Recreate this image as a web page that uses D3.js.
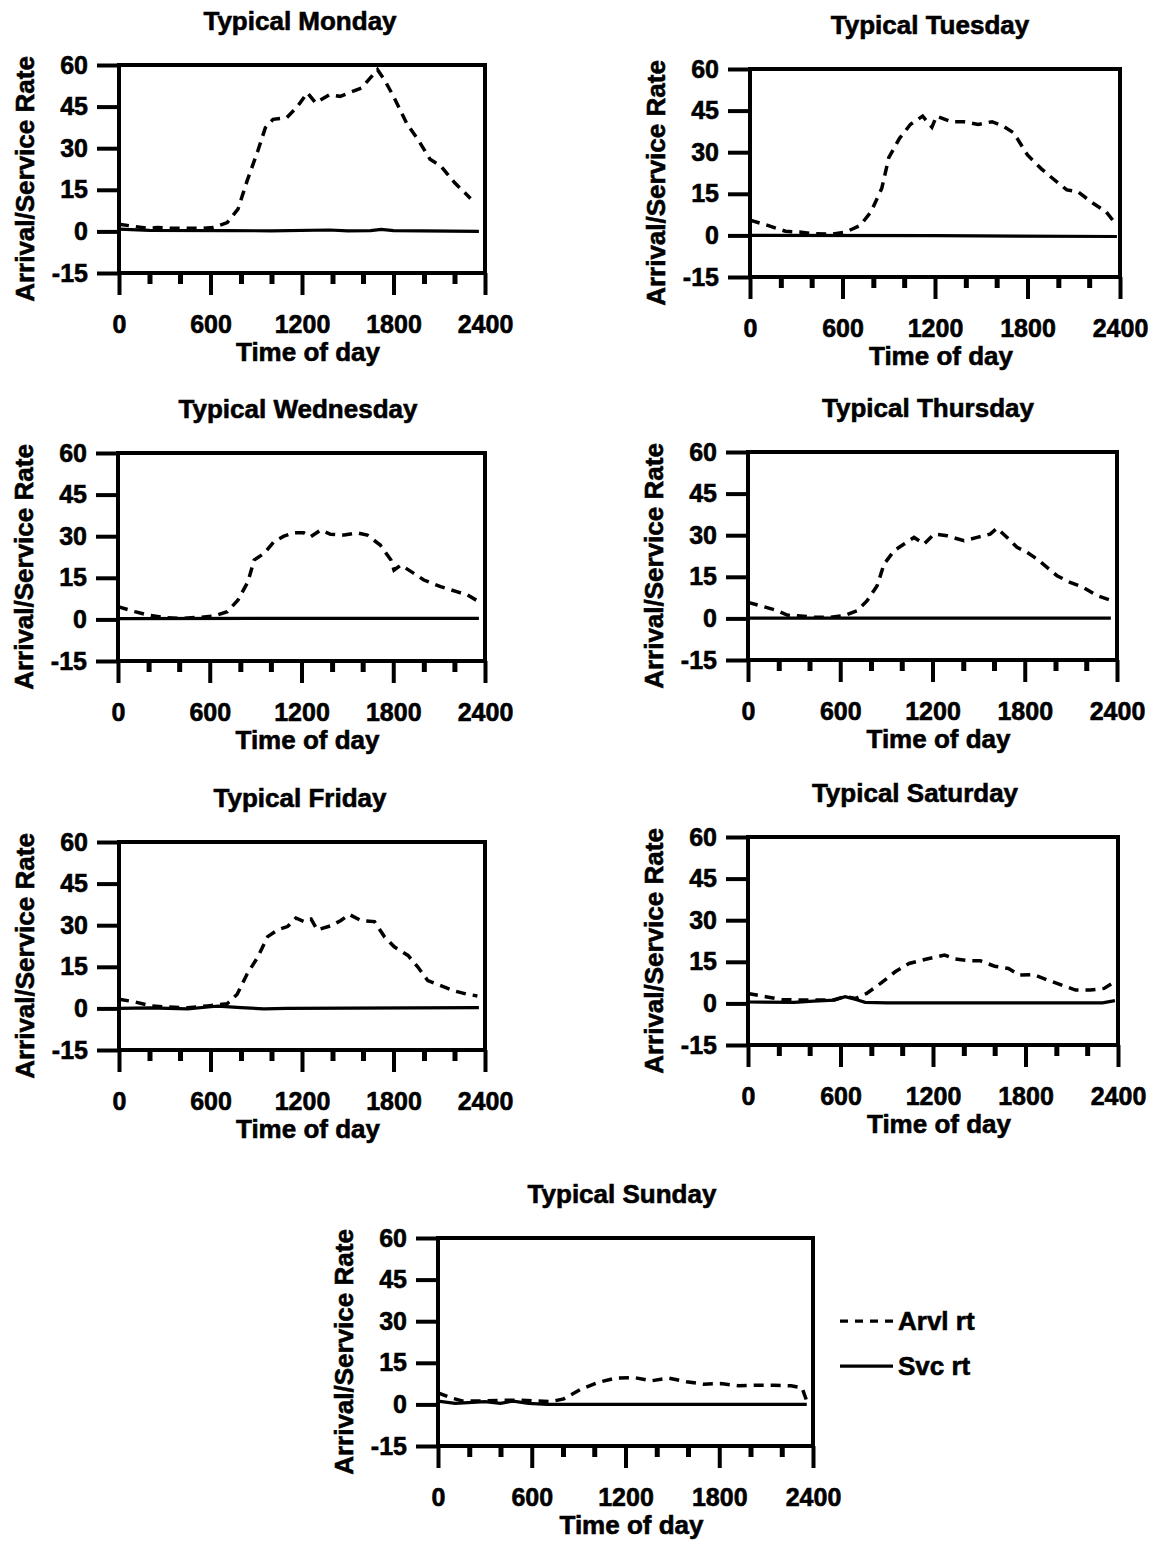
<!DOCTYPE html>
<html>
<head>
<meta charset="utf-8">
<script src="https://cdn.jsdelivr.net/npm/d3@7"></script>
<style>
  body { margin: 0; background: #fff; }
  svg text { font-family: "Liberation Sans", Arial, Helvetica, sans-serif; font-weight: bold; fill: #000; stroke: #000; stroke-width: 0.6px; }
</style>
</head>
<body>
<div id="chart"></div>
<script>
// tick values
const yTicks = [-15, 0, 15, 30, 45, 60];
const xMajor = [0, 600, 1200, 1800, 2400];
const xMinor = [200, 400, 800, 1000, 1400, 1600, 2000, 2200];

// [time of day, rate]
const monArvl = [[0,2.6],[100,1.8],[190,1.1],[250,1.4],[360,1.1],[540,1.1],[620,1.4],[710,3.2],[780,8],[840,18.2],[910,29],[960,37.4],[1010,40.4],[1100,41],[1170,45],[1235,50],[1290,46.3],[1380,49.3],[1450,48.7],[1520,50.2],[1590,51.7],[1695,58.3],[1740,54.7],[1800,48.7],[1890,38.6],[1960,33.2],[2040,26],[2110,23.6],[2200,17.6],[2305,11.9]];
const monSvc = [[0,0.8],[200,0.4],[700,0.3],[1000,0.2],[1380,0.5],[1500,0.2],[1650,0.3],[1720,0.7],[1800,0.3],[2360,0]];

const tueArvl = [[0,5.5],[115,3.6],[230,1.5],[320,1.2],[415,0.6],[530,0.4],[620,1.2],[715,3.6],[785,8.5],[855,17],[900,28],[970,35],[1040,40],[1120,43],[1180,39],[1210,43],[1305,41],[1385,41],[1480,40],[1570,41],[1640,39.5],[1710,37],[1800,29],[1890,24],[1960,20.7],[2055,16.4],[2125,15.8],[2215,12],[2310,8.5],[2370,4.3]];
const tueSvc = [[0,0],[1200,-0.1],[2380,-0.4]];

const wedArvl = [[0,4.6],[110,2.8],[195,1.6],[305,0.6],[415,0.4],[520,0.7],[630,1.2],[715,2.8],[785,7],[850,13.6],[890,21.4],[955,23.8],[1020,28],[1085,30],[1150,31.2],[1215,31.2],[1260,29.8],[1325,32.2],[1390,30.7],[1480,30.4],[1565,31.2],[1630,30.4],[1715,26.8],[1785,21.4],[1805,17.8],[1850,19.6],[1935,16.6],[2000,14.2],[2110,11.8],[2215,10],[2285,8.8],[2360,6.4]];
const wedSvc = [[0,0.3],[2360,0.4]];

const thuArvl = [[0,5.8],[105,4.2],[190,2.8],[255,1.2],[320,1],[430,0.4],[535,0.4],[625,1],[710,2.8],[775,6.4],[840,11.8],[885,19.6],[950,24.4],[1015,26.8],[1080,29.2],[1145,26.8],[1210,30.4],[1295,29.8],[1405,28],[1490,29.2],[1575,30.4],[1620,32.5],[1685,29.2],[1750,25.6],[1815,23.8],[1880,21.4],[1945,18.4],[2010,15.4],[2095,13],[2180,11.2],[2270,8.2],[2355,6.6]];
const thuSvc = [[0,0.1],[2360,0.1]];

const friArvl = [[0,3.3],[100,2.4],[210,0.9],[315,0.5],[450,0.2],[580,0.9],[710,1.7],[775,5.1],[840,12.4],[910,18.5],[975,25.9],[1040,28.3],[1105,29.5],[1160,32.6],[1215,31.3],[1260,32.2],[1300,28.3],[1390,29.8],[1455,31.7],[1510,33.9],[1585,31.7],[1675,31.3],[1740,25.9],[1805,22.2],[1895,19.1],[1960,14.9],[2025,10],[2110,8.2],[2200,6.3],[2285,5.1],[2350,4.5]];
const friSvc = [[0,0],[200,0.2],[450,-0.2],[600,0.6],[650,0.8],[800,0.3],[950,-0.2],[1100,0],[2360,0.3]];

const satArvl = [[0,3.6],[115,2.4],[220,1.4],[335,1.2],[470,1.2],[560,1.3],[630,2.5],[700,1.8],[770,3.6],[860,7.2],[955,11.4],[1045,14.4],[1160,16],[1275,17.4],[1345,16],[1435,15.4],[1505,15.4],[1600,13.4],[1690,12.6],[1760,10.2],[1850,10.4],[1945,8.4],[2035,6.6],[2125,4.8],[2220,4.8],[2310,5.4],[2380,7.8]];
const satSvc = [[0,0.5],[300,0.4],[425,0.8],[560,1.2],[630,2.4],[700,1.4],[760,0.4],[900,0.2],[2300,0.2],[2380,1]];

const sunArvl = [[0,4.2],[80,2.4],[160,1.2],[275,1.2],[415,1.5],[525,1.5],[640,1.2],[720,1],[805,2],[915,5.5],[1030,8],[1140,9.5],[1255,9.7],[1365,8.5],[1475,9.5],[1590,8.2],[1700,7.3],[1810,7.5],[1925,6.7],[2035,6.9],[2150,6.9],[2260,6.7],[2330,6],[2360,1.2]];
const sunSvc = [[0,1.2],[110,0.4],[300,1],[400,0.4],[480,1.2],[580,0.4],[700,0],[2360,0]];

const dayNames = ["Monday", "Tuesday", "Wednesday", "Thursday", "Friday", "Saturday", "Sunday"];
const arvlSeries = [monArvl, tueArvl, wedArvl, thuArvl, friArvl, satArvl, sunArvl];
const svcSeries = [monSvc, tueSvc, wedSvc, thuSvc, friSvc, satSvc, sunSvc];
const legendLabels = ["Arvl rt", "Svc rt"];

// panel placement on the page
const panels = [
  {left: 119, top: 65, w: 366, tx: 300},
  {left: 750, top: 69, w: 370, tx: 930},
  {left: 118, top: 453, w: 367, tx: 298},
  {left: 748, top: 452, w: 369, tx: 928},
  {left: 119, top: 842, w: 366, tx: 300},
  {left: 748, top: 837, w: 370, tx: 915},
  {left: 438, top: 1238, w: 375, tx: 622}
];
const ph = 208;

const svg = d3.select("#chart").append("svg")
  .attr("width", 1158)
  .attr("height", 1542);

svg.append("rect").attr("width", 1158).attr("height", 1542).attr("fill", "#fff");

const dash = "10,7";

dayNames.forEach((name, i) => {
  const p = panels[i];
  const x = d3.scaleLinear().domain([0, 2400]).range([p.left, p.left + p.w]);
  const y = d3.scaleLinear().domain([-15, 60]).range([p.top + ph, p.top]);
  const g = svg.append("g");

  // title
  g.append("text")
    .attr("x", p.tx)
    .attr("y", p.top - 35)
    .attr("text-anchor", "middle")
    .attr("font-size", 26)
    .text("Typical " + name);

  // frame
  g.append("rect")
    .attr("x", x(0))
    .attr("y", y(60))
    .attr("width", x(2400) - x(0))
    .attr("height", y(-15) - y(60))
    .attr("fill", "none")
    .attr("stroke", "#000")
    .attr("stroke-width", 4);

  // y axis
  g.append("g")
    .attr("transform", `translate(${x(0)},0)`)
    .call(d3.axisLeft(y).tickValues(yTicks).tickSize(22).tickPadding(9).tickFormat(d => String(d)))
    .call(a => a.select(".domain").remove())
    .call(a => a.selectAll(".tick line").attr("stroke-width", 4))
    .call(a => a.selectAll(".tick text").attr("font-size", 25).attr("font-family", null).attr("fill", null));

  // x axis, major ticks
  g.append("g")
    .attr("transform", `translate(0,${y(-15)})`)
    .call(d3.axisBottom(x).tickValues(xMajor).tickSize(22).tickPadding(20).tickFormat(d => String(d)))
    .call(a => a.select(".domain").remove())
    .call(a => a.selectAll(".tick line").attr("stroke-width", 4))
    .call(a => a.selectAll(".tick text").attr("font-size", 25).attr("font-family", null).attr("fill", null));

  // x axis, minor ticks
  g.append("g")
    .attr("transform", `translate(0,${y(-15)})`)
    .call(d3.axisBottom(x).tickValues(xMinor).tickSize(11).tickFormat(""))
    .call(a => a.select(".domain").remove())
    .call(a => a.selectAll(".tick line").attr("stroke-width", 5));

  // axis titles
  g.append("text")
    .attr("x", (x(0) + x(2400)) / 2 + 6)
    .attr("y", y(-15) + 88)
    .attr("text-anchor", "middle")
    .attr("font-size", 26)
    .text("Time of day");

  g.append("text")
    .attr("transform", `translate(${x(0) - 85},${p.top + 114}) rotate(-90)`)
    .attr("text-anchor", "middle")
    .attr("font-size", 26)
    .text("Arrival/Service Rate");

  const line = d3.line()
    .x(d => x(d[0]))
    .y(d => y(d[1]));

  g.append("path")
    .datum(svcSeries[i])
    .attr("d", line)
    .attr("fill", "none")
    .attr("stroke", "#000")
    .attr("stroke-width", 3.2);

  g.append("path")
    .datum(arvlSeries[i])
    .attr("d", line)
    .attr("fill", "none")
    .attr("stroke", "#000")
    .attr("stroke-width", 3.5)
    .attr("stroke-dasharray", dash);

  // legend beside the last panel
  if (i === dayNames.length - 1) {
    const lx = x(2400) + 27;
    const leg = g.append("g");
    legendLabels.forEach((lab, k) => {
      const ly = y(30) + k * 45;
      leg.append("line")
        .attr("x1", lx).attr("x2", lx + 53)
        .attr("y1", ly).attr("y2", ly)
        .attr("stroke", "#000")
        .attr("stroke-width", 3.2)
        .attr("stroke-dasharray", k === 0 ? "8,7" : null);
      leg.append("text")
        .attr("x", lx + 58)
        .attr("y", ly + 9)
        .attr("font-size", 26)
        .text(lab);
    });
  }
});
</script>
</body>
</html>
